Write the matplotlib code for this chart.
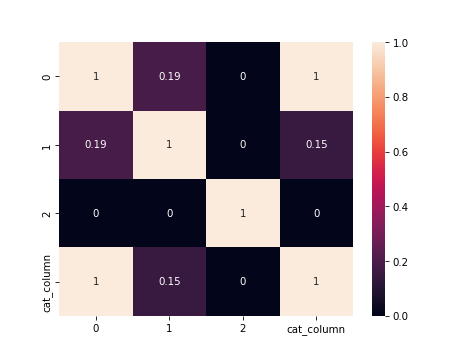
import matplotlib
matplotlib.use("Agg")
import matplotlib.pyplot as plt
import seaborn as sns
import pandas as pd

labels = ["0", "1", "2", "cat_column"]
row0 = [1.0, 0.19, 0.0, 1.0]
row1 = [0.19, 1.0, 0.0, 0.15]
row2 = [0.0, 0.0, 1.0, 0.0]
row3 = [1.0, 0.15, 0.0, 1.0]

df = pd.DataFrame([row0, row1, row2, row3], index=labels, columns=labels)

fig = plt.figure(figsize=(6.4, 4.8), dpi=74.07)
ax = sns.heatmap(df, annot=True)
fig.savefig("out.png", dpi=74.07)
